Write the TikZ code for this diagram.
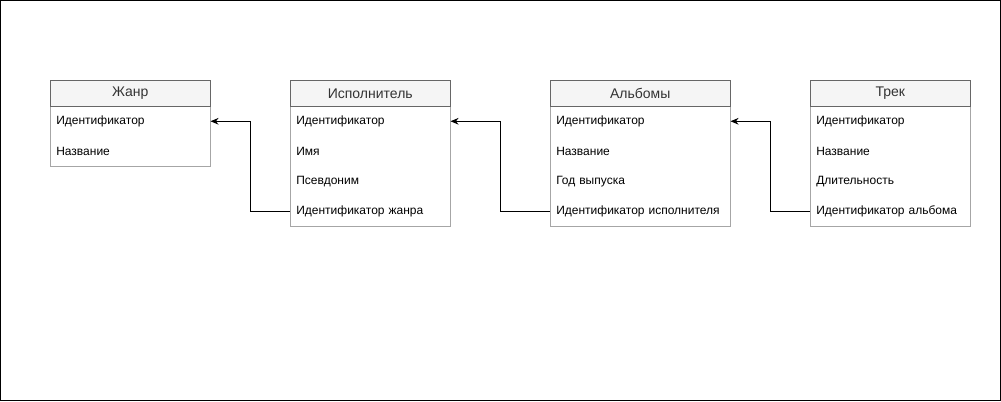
\documentclass[tikz,border=0pt]{standalone}
\usepackage{fontspec}
\setmainfont{Liberation Sans}
\usetikzlibrary{arrows.meta,positioning}
\definecolor{hdrfill}{HTML}{F5F5F5}
\definecolor{hdrline}{HTML}{666666}
\definecolor{hdrtext}{HTML}{333333}
\definecolor{bodyline}{HTML}{A6A6A6}
\tikzset{
  hdr/.style={draw=hdrline, fill=hdrfill, text=hdrtext, font=\fontsize{10.5pt}{12pt}\selectfont,
    minimum height=19.5pt, inner sep=0pt, anchor=north west},
  row/.style={font=\fontsize{9pt}{11pt}\selectfont, minimum height=22.5pt, inner xsep=4.5pt, inner ysep=0pt,
    align=left, anchor=north west},
  frame/.style={draw=bodyline, line width=0.75pt},
  fk/.style={draw=black, line width=0.75pt, -{Stealth[length=6pt,width=5pt]}},
}
\begin{document}
\begin{tikzpicture}[x=0.75pt,y=-0.75pt]
\useasboundingbox (0,0) rectangle (1001,401);
\draw[black, line width=0.75pt] (0.5,0.5) rectangle (1000.5,400.5);

% Жанр
\node[row, text width=111pt] (g1) at (50,106) {Идентификатор};
\node[row, text width=111pt] (g2) at (50,136) {Название};
\draw[frame] (g1.north west) rectangle (g2.south east);
\node[hdr, minimum width=120pt] (gh) at (50,80) {Жанр};

% Исполнитель
\node[row, text width=111pt] (i1) at (290,106) {Идентификатор};
\node[row, text width=111pt] (i2) at (290,136) {Имя};
\node[row, text width=111pt] (i3) at (290,166) {Псевдоним};
\node[row, text width=111pt] (i4) at (290,196) {Идентификатор жанра};
\draw[frame] (i1.north west) rectangle (i4.south east);
\node[hdr, minimum width=120pt] (ih) at (290,80) {Исполнитель};

% Альбомы
\node[row, text width=126pt] (a1) at (550,106) {Идентификатор};
\node[row, text width=126pt] (a2) at (550,136) {Название};
\node[row, text width=126pt] (a3) at (550,166) {Год выпуска};
\node[row, text width=126pt] (a4) at (550,196) {Идентификатор исполнителя};
\draw[frame] (a1.north west) rectangle (a4.south east);
\node[hdr, minimum width=135pt] (ah) at (550,80) {Альбомы};

% Трек
\node[row, text width=111pt] (t1) at (810,106) {Идентификатор};
\node[row, text width=111pt] (t2) at (810,136) {Название};
\node[row, text width=111pt] (t3) at (810,166) {Длительность};
\node[row, text width=111pt] (t4) at (810,196) {Идентификатор альбома};
\draw[frame] (t1.north west) rectangle (t4.south east);
\node[hdr, minimum width=120pt] (th) at (810,80) {Трек};

% connectors
\draw[fk] (i4.west) -- ++(-40,0) |- (g1.east);
\draw[fk] (a4.west) -- ++(-50,0) |- (i1.east);
\draw[fk] (t4.west) -- ++(-40,0) |- (a1.east);
\end{tikzpicture}
\end{document}
